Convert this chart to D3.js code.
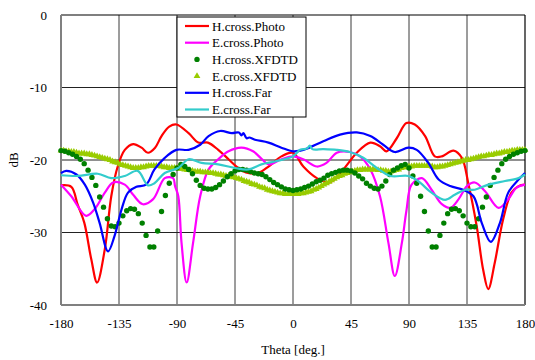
<!DOCTYPE html>
<html>
<head>
<meta charset="utf-8">
<script src="https://cdn.jsdelivr.net/npm/d3@7/dist/d3.min.js"></script>
<style>
  body { margin: 0; background: #fff; }
</style>
</head>
<body>
<div id="chart"></div>
<script>
// x ticks / y ticks
const xTicks = [-180, -135, -90, -45, 0, 45, 90, 135, 180];
const yTicks = [0, -10, -20, -30, -40];

// H.cross.Photo
const hPhotoTheta = [-180,-172,-167,-162,-156.5,-152,-146,-141,-136,-130.5,-124,-117.5,-112.5,-107,-102,-96,-90.5,-81,-73.5,-66,-58,-50,-42.5,-35,-27,-19,-9,0,8,18.5,28.5,39,49.5,60,67.5,72.5,80.5,88,94.5,102.5,110,115.5,124.5,131,136,142.5,147.5,151.5,156.5,163,169.5,175,180];
const hPhotoDb = [-23.5,-23.7,-26.2,-28.6,-33.7,-36.9,-32.3,-25.0,-20.9,-18.6,-17.8,-18.3,-19.0,-18.3,-16.7,-15.4,-15.1,-16.3,-17.6,-17.6,-18.6,-19.9,-21.1,-21.8,-21.8,-20.9,-19.5,-19.0,-20.9,-22.5,-23.1,-21.3,-19.0,-17.6,-18.1,-18.8,-17.0,-14.9,-15.1,-16.7,-19.5,-19.5,-18.7,-19.7,-23.2,-29.1,-35.1,-37.8,-34.2,-28.2,-24.5,-23.6,-23.4];

// E.cross.Photo
const ePhotoTheta = [-180,-172,-160.5,-154,-146,-139.5,-130.5,-124,-116.5,-108.5,-99.5,-93,-91.5,-89,-86.5,-82.5,-77.5,-72,-65.5,-58,-50,-40,-31,-24,-19,-9,0,8,18.5,26,34,44,52,60,67.5,74,79,84.5,88,92,100,107.5,115.5,122,128.5,135,141,149,159.5,167,173.5,180];
const ePhotoDb = [-23.4,-25.0,-27.7,-26.8,-24.5,-23.1,-23.4,-24.8,-26.1,-25.4,-22.5,-22.5,-23.6,-25.0,-31.4,-36.9,-31.4,-25.0,-21.3,-19.9,-18.8,-18.3,-18.8,-19.9,-20.6,-19.9,-19.5,-19.9,-20.9,-20.4,-19.0,-18.9,-19.5,-21.3,-25.0,-31.4,-36.0,-31.4,-27.0,-23.4,-22.5,-24.1,-26.1,-26.6,-25.4,-23.6,-23.1,-24.3,-26.6,-25.4,-23.8,-23.4];

// H.cross.XFDTD, every 3 deg
const hXfdtdTheta = d3.range(-180, 181, 3);
const hXfdtdDb = [-18.7,-18.8,-19.0,-19.2,-19.5,-19.9,-20.5,-21.4,-22.4,-23.5,-25.1,-26.5,-28.1,-29.1,-29.2,-28.7,-27.7,-27.0,-26.7,-26.8,-27.4,-28.7,-30.4,-32.0,-32.0,-29.8,-27.1,-24.9,-23.2,-22.0,-21.1,-20.6,-20.9,-21.3,-21.9,-22.8,-23.5,-23.9,-24.0,-24.0,-23.8,-23.4,-22.9,-22.3,-21.9,-21.5,-21.3,-21.3,-21.4,-21.6,-21.8,-21.9,-22.0,-22.3,-22.7,-23.1,-23.4,-23.7,-24.0,-24.1,-24.2,-24.1,-24.0,-23.8,-23.6,-23.3,-23.0,-22.8,-22.5,-22.1,-21.9,-21.7,-21.5,-21.4,-21.4,-21.5,-21.8,-22.2,-22.6,-23.2,-23.6,-23.9,-24.0,-23.6,-22.9,-22.0,-21.4,-21.1,-20.8,-20.6,-21.1,-22.2,-23.2,-25.0,-27.1,-29.8,-32.0,-32.0,-30.4,-28.7,-27.4,-26.8,-26.7,-27.0,-27.7,-28.7,-29.2,-29.2,-28.1,-26.5,-25.1,-23.5,-22.4,-21.4,-20.5,-19.9,-19.5,-19.2,-19.0,-18.8,-18.7];

// E.cross.XFDTD, every 2 deg
const eXfdtdTheta = d3.range(-180, 181, 2);
const eXfdtdDb = [
  -18.7,-18.7,-18.8,-18.8,-18.9,-18.9,-19.0,-19.1,-19.1,-19.1,-19.2,-19.2,-19.3,-19.4,-19.5,-19.6,-19.7,-19.8,-19.9,-20.0,
  -20.2,-20.3,-20.4,-20.6,-20.7,-20.8,-20.9,-21.0,-21.1,-21.1,-21.1,-21.0,-21.0,-20.9,-20.8,-20.8,-20.8,-20.8,-20.8,-20.9,
  -21.0,-21.0,-21.1,-21.1,-21.1,-21.1,-21.2,-21.2,-21.3,-21.4,-21.4,-21.5,-21.6,-21.6,-21.6,-21.7,-21.7,-21.7,-21.8,-21.8,
  -21.9,-22.0,-22.0,-22.1,-22.2,-22.2,-22.3,-22.4,-22.5,-22.6,-22.7,-22.9,-23.0,-23.1,-23.3,-23.4,-23.5,-23.7,-23.8,-23.9,
  -24.1,-24.2,-24.3,-24.4,-24.5,-24.6,-24.6,-24.7,-24.7,-24.7,
  -24.7,
  -24.7,-24.7,-24.6,-24.6,-24.5,-24.4,-24.3,-24.1,-24.0,-23.8,-23.6,-23.4,-23.2,-23.0,-22.8,-22.6,-22.4,-22.2,-22.1,-21.9,
  -21.8,-21.7,-21.6,-21.5,-21.4,-21.4,-21.3,-21.3,-21.3,-21.3,-21.3,-21.3,-21.4,-21.4,-21.5,-21.5,-21.6,-21.6,-21.5,-21.4,
  -21.3,-21.1,-21.0,-21.0,-20.9,-20.9,-20.8,-20.8,-20.8,-20.8,-20.8,-20.8,-20.8,-20.9,-21.0,-21.0,-20.9,-20.9,-20.8,-20.7,
  -20.6,-20.5,-20.4,-20.3,-20.2,-20.1,-20.0,-20.0,-19.9,-19.8,-19.7,-19.6,-19.5,-19.5,-19.4,-19.3,-19.3,-19.2,-19.1,-19.1,
  -19.0,-18.9,-18.9,-18.8,-18.7,-18.7,-18.6,-18.6,-18.6,-18.6
];

// H.cross.Far
const hFarTheta = [-180,-176,-168,-161.5,-155,-150,-143.5,-138.5,-133,-128,-121.5,-114,-107.5,-99.5,-90.5,-81,-72,-65.5,-56.5,-47.5,-42,-40,-38.5,-36,-34,-29.5,-19,-9,0,8,23.5,36.5,49.5,60,70,79,89.5,96,105,113,122,132,140,146.5,153.5,160.5,167,175,180];
const hFarDb = [-21.8,-21.5,-22.0,-23.4,-25.9,-28.7,-32.6,-30.5,-26.8,-24.5,-23.7,-23.4,-21.3,-19.7,-18.6,-18.6,-17.9,-16.7,-16.0,-16.3,-16.2,-16.6,-16.3,-17.0,-16.9,-17.2,-17.6,-18.3,-18.8,-18.6,-17.4,-16.5,-16.2,-16.7,-17.9,-18.9,-18.3,-18.6,-20.4,-22.7,-23.6,-24.1,-25.0,-28.7,-31.3,-28.7,-24.5,-22.7,-21.8];

// E.cross.Far
const eFarTheta = [-180,-167,-151.5,-141,-130.5,-120.5,-112.5,-107.5,-99.5,-89,-81,-71,-58,-45,-34.5,-24.5,-14,0,5.5,11,13,15,23.5,34,44,54.5,65,75.5,89.5,97,107.5,118,125.5,133.5,141,151.5,164.5,175,180];
const eFarDb = [-22.1,-22.2,-21.9,-22.5,-22.2,-21.5,-23.5,-23.2,-21.8,-21.1,-19.9,-20.4,-20.6,-21.1,-21.3,-20.6,-20.2,-19.5,-18.6,-18.4,-18.0,-18.5,-18.5,-18.6,-18.9,-19.7,-21.1,-22.2,-22.2,-22.9,-24.5,-25.5,-24.8,-24.1,-24.1,-23.4,-22.9,-22.5,-22.0];

const seriesNames = ["H.cross.Photo", "E.cross.Photo", "H.cross.XFDTD", "E.cross.XFDTD", "H.cross.Far", "E.cross.Far"];
const seriesColors = ["#ff0000", "#ff00ff", "#008000", "#99cc00", "#0000ff", "#33cccc"];

const serif = '"Liberation Serif", "Times New Roman", "DejaVu Serif", serif';
const width = 535, height = 360;
const plot = { left: 61, right: 525, top: 15, bottom: 305 };

const svg = d3.select("#chart").append("svg")
  .attr("width", width)
  .attr("height", height)
  .attr("font-family", serif)
  .attr("font-size", 13);

const x = d3.scaleLinear().domain([-180, 180]).range([plot.left, plot.right]);
const y = d3.scaleLinear().domain([-40, 0]).range([plot.bottom, plot.top]);

// grid
svg.append("g").selectAll("line").data(xTicks.slice(1, -1)).enter().append("line")
  .attr("x1", d => x(d)).attr("x2", d => x(d))
  .attr("y1", plot.top).attr("y2", plot.bottom)
  .attr("stroke", "#3a3a3a").attr("stroke-width", 1);
svg.append("g").selectAll("line").data(yTicks.slice(1, -1)).enter().append("line")
  .attr("x1", plot.left).attr("x2", plot.right)
  .attr("y1", d => y(d)).attr("y2", d => y(d))
  .attr("stroke", "#222").attr("stroke-width", 1);

// frame
svg.append("line").attr("x1", plot.left).attr("x2", plot.right).attr("y1", plot.top).attr("y2", plot.top)
  .attr("stroke", "#000").attr("stroke-width", 1.2);
svg.append("line").attr("x1", plot.right).attr("x2", plot.right).attr("y1", plot.top).attr("y2", plot.bottom)
  .attr("stroke", "#000").attr("stroke-width", 1.2);
svg.append("line").attr("x1", plot.left).attr("x2", plot.left).attr("y1", plot.top).attr("y2", plot.bottom)
  .attr("stroke", "#808080").attr("stroke-width", 2);
svg.append("line").attr("x1", plot.left).attr("x2", plot.right).attr("y1", plot.bottom).attr("y2", plot.bottom)
  .attr("stroke", "#808080").attr("stroke-width", 2);

// axes (labels only, plain hyphen minus like the original)
const xAxis = svg.append("g")
  .attr("transform", `translate(0,${plot.bottom + 8})`)
  .call(d3.axisBottom(x).tickValues(xTicks).tickSize(0).tickPadding(6).tickFormat(d => String(d)));
xAxis.attr("font-family", serif).attr("font-size", 13);
xAxis.select(".domain").remove();

const yAxis = svg.append("g")
  .attr("transform", `translate(${plot.left - 14},0)`)
  .call(d3.axisLeft(y).tickValues(yTicks).tickSize(0).tickPadding(0).tickFormat(d => String(d)));
yAxis.attr("font-family", serif).attr("font-size", 13);
yAxis.select(".domain").remove();

svg.append("text")
  .attr("x", (plot.left + plot.right) / 2)
  .attr("y", 354)
  .attr("text-anchor", "middle")
  .text("Theta [deg.]");

svg.append("text")
  .attr("transform", "translate(18,160) rotate(-90)")
  .attr("text-anchor", "middle")
  .text("dB");

const line = d3.line()
  .x(d => x(d[0]))
  .y(d => y(d[1]))
  .curve(d3.curveCatmullRom.alpha(0.5));

const zip = (a, b) => a.slice(0, b.length).map((t, i) => [t, b[i]]);

const g = svg.append("g");

function drawLine(thetas, vals, color) {
  g.append("path")
    .datum(zip(thetas, vals))
    .attr("fill", "none")
    .attr("stroke", color)
    .attr("stroke-width", 2.2)
    .attr("stroke-linejoin", "round")
    .attr("d", line);
}

drawLine(hPhotoTheta, hPhotoDb, seriesColors[0]);
drawLine(ePhotoTheta, ePhotoDb, seriesColors[1]);

// triangles
const tri = d3.symbol().type(d3.symbolTriangle).size(20);
g.append("g").selectAll("path")
  .data(zip(eXfdtdTheta, eXfdtdDb)).enter().append("path")
  .attr("d", tri)
  .attr("transform", d => `translate(${x(d[0])},${y(d[1])})`)
  .attr("fill", seriesColors[3]);

// dots
g.append("g").selectAll("circle")
  .data(zip(hXfdtdTheta, hXfdtdDb)).enter().append("circle")
  .attr("cx", d => x(d[0]))
  .attr("cy", d => y(d[1]))
  .attr("r", 2.7)
  .attr("fill", seriesColors[2]);

drawLine(hFarTheta, hFarDb, seriesColors[4]);
drawLine(eFarTheta, eFarDb, seriesColors[5]);

// legend
const legend = svg.append("g");
legend.append("rect")
  .attr("x", 177).attr("y", 17)
  .attr("width", 129).attr("height", 100)
  .attr("fill", "#fff").attr("stroke", "#000").attr("stroke-width", 1);

seriesNames.forEach((name, i) => {
  const cy = 26 + i * 16.7;
  const row = legend.append("g");
  if (i === 2) {
    row.append("circle").attr("cx", 197).attr("cy", cy).attr("r", 2.7).attr("fill", seriesColors[i]);
  } else if (i === 3) {
    row.append("path").attr("d", tri).attr("transform", `translate(197,${cy})`).attr("fill", seriesColors[i]);
  } else {
    row.append("line").attr("x1", 185).attr("x2", 209).attr("y1", cy).attr("y2", cy)
      .attr("stroke", seriesColors[i]).attr("stroke-width", 2.2);
  }
  row.append("text")
    .attr("x", 212).attr("y", cy)
    .attr("dy", "0.35em")
    .text(name);
});
</script>
</body>
</html>
